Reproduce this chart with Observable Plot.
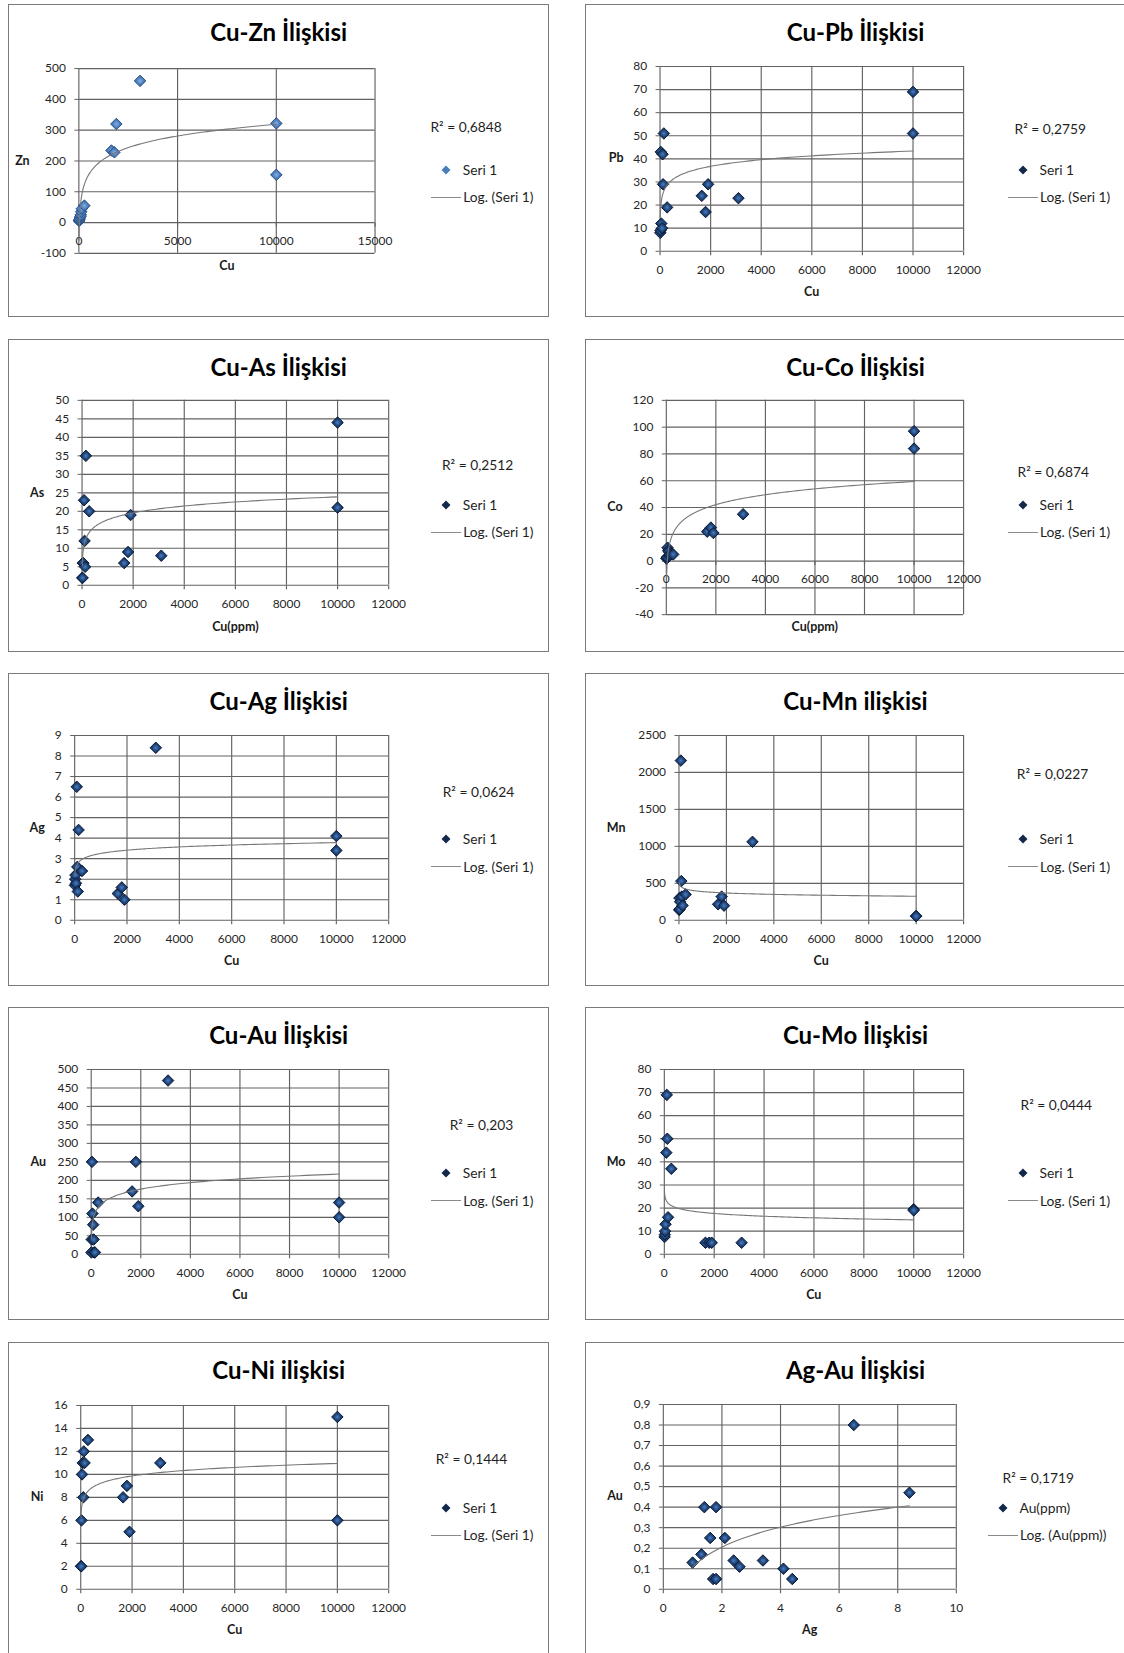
<!DOCTYPE html>
<html>
<head>
<meta charset="utf-8">
<script src="https://cdn.jsdelivr.net/npm/d3@7"></script>
<script src="https://cdn.jsdelivr.net/npm/@observablehq/plot@0.6"></script>
<style>
  html, body { margin: 0; padding: 0; background: #fff; }
  body { width: 1124px; height: 1653px; overflow: hidden; position: relative;
         font-family: Lato, "Noto Sans", sans-serif; color: #1f1f1f; }
  .panel { position: absolute; width: 541px; height: 313px; box-sizing: border-box;
           border: 1.5px solid #7b7b7b; background: #fff; }
  .panel > svg.chart { position: absolute; left: 0; top: 0; overflow: visible; }
  .lbl { position: absolute; white-space: nowrap; transform: translate(-50%, -50%); line-height: 1; }
  .lft { position: absolute; white-space: nowrap; transform: translate(0, -50%); line-height: 1; }
  .title { font-weight: 700; font-size: 24px; color: #000; }
  .axt { font-weight: 700; font-size: 12.5px; color: #1a1a1a; }
  .leg { font-size: 13.8px; color: #1f1f1f; }
  .legline { position: absolute; height: 0; border-top: 1.3px solid #8a8a8a; }
</style>
</head>
<body>
<svg width="0" height="0" style="position:absolute">
  <defs>
    <radialGradient id="mkDark" cx="50%" cy="50%" r="55%">
      <stop offset="0" stop-color="#4a7fc4"/>
      <stop offset="0.45" stop-color="#22497f"/>
      <stop offset="1" stop-color="#0e2246"/>
    </radialGradient>
    <radialGradient id="mkLight" cx="50%" cy="50%" r="55%">
      <stop offset="0" stop-color="#86afe3"/>
      <stop offset="0.5" stop-color="#4e81c2"/>
      <stop offset="1" stop-color="#3764a0"/>
    </radialGradient>
  </defs>
</svg>
<script>
// Copper (ppm) of the 15 samples, shared by the Cu-x panels
const cu = [10, 20, 30, 50, 80, 100, 120, 150, 280, 1650, 1800, 1900, 3100, 10000, 10000];
// Element values for the same samples
const zn = [5, 8, 10, 15, 20, 25, 35, 45, 55, 234, 228, 320, 460, 322, 155];
const pb = [8, 9, 43, 12, 10, 42, 29, 51, 19, 24, 17, 29, 23, 69, 51];
const as = [2, 2, 6, 6, 23, 12, 5, 35, 20, 6, 9, 19, 8, 44, 21];
const co = [2, 2, 3, 10, 8, 7, 4, 5, 5, 22, 25, 21, 35, 97, 84];
const ag = [1.7, 2.0, 2.2, 1.8, 6.5, 2.6, 1.4, 4.4, 2.4, 1.3, 1.6, 1.0, 8.4, 4.1, 3.4];
const mn = [140, 300, 150, 250, 2160, 530, 320, 200, 350, 216, 320, 198, 1061, 58, 55];
const au = [5, 40, 250, 110, 80, 40, 5, 5, 140, 170, 250, 130, 470, 100, 140];
const mo = [7.5, 8.5, 10, 13, 44, 69, 50, 16, 37, 5, 5, 5, 5, 19.5, 19];
const ni = [2, 2, 6, 10, 11, 8, 12, 11, 13, 8, 9, 5, 11, 15, 6];
// Silver vs gold (ppm) pairs
const agPair = [1.0, 1.3, 1.4, 1.6, 1.7, 1.8, 1.8, 2.1, 2.4, 2.6, 3.4, 4.1, 4.4, 6.5, 8.4];
const auPpm = [0.13, 0.17, 0.4, 0.25, 0.05, 0.4, 0.05, 0.25, 0.14, 0.11, 0.14, 0.1, 0.05, 0.8, 0.47];

// Axis ticks
const cuTicks = [0, 2000, 4000, 6000, 8000, 10000, 12000];
const cuTicksWide = [0, 5000, 10000, 15000];
const agTicks = [0, 2, 4, 6, 8, 10];
const znTicks = [-100, 0, 100, 200, 300, 400, 500];
const pbTicks = [0, 10, 20, 30, 40, 50, 60, 70, 80];
const asTicks = [0, 5, 10, 15, 20, 25, 30, 35, 40, 45, 50];
const coTicks = [-40, -20, 0, 20, 40, 60, 80, 100, 120];
const agCuTicks = [0, 1, 2, 3, 4, 5, 6, 7, 8, 9];
const mnTicks = [0, 500, 1000, 1500, 2000, 2500];
const auTicks = [0, 50, 100, 150, 200, 250, 300, 350, 400, 450, 500];
const moTicks = [0, 10, 20, 30, 40, 50, 60, 70, 80];
const niTicks = [0, 2, 4, 6, 8, 10, 12, 14, 16];
const auPpmTicks = [0, 0.1, 0.2, 0.3, 0.4, 0.5, 0.6, 0.7, 0.8, 0.9];

// Texts
const titles = ["Cu-Zn İlişkisi", "Cu-Pb İlişkisi", "Cu-As İlişkisi", "Cu-Co İlişkisi", "Cu-Ag İlişkisi",
                "Cu-Mn ilişkisi", "Cu-Au İlişkisi", "Cu-Mo İlişkisi", "Cu-Ni ilişkisi", "Ag-Au İlişkisi"];
const r2Labels = ["R² = 0,6848", "R² = 0,2759", "R² = 0,2512", "R² = 0,6874", "R² = 0,0624",
                  "R² = 0,0227", "R² = 0,203", "R² = 0,0444", "R² = 0,1444", "R² = 0,1719"];

const GRID = "#626262";
const TREND = "#777777";
const W = 541, H = 313;
const colX = [7.7, 584.5];
const rowY = [3.5, 338.8, 673.1, 1007.3, 1341.5];

// Panel layout: margins [top, right, bottom, left], label and legend placement
const panels = [
  {x: cu, y: zn, xt: cuTicksWide, yt: znTicks, xl: "Cu", yl: "Zn", light: true,
   m: [63.3, 174.1, 64.2, 69.6], ylx: 13.7, xly: 261.5, r2x: 421.7, r2y: 122.3},
  {x: cu, y: pb, xt: cuTicks, yt: pbTicks, xl: "Cu", yl: "Pb",
   m: [61.2, 162.5, 66.3, 73.8], ylx: 30.6, xly: 287.9, r2x: 429, r2y: 124.4},
  {x: cu, y: as, xt: cuTicks, yt: asTicks, xl: "Cu(ppm)", yl: "As",
   m: [60.1, 160.4, 67.3, 72.8], ylx: 28.5, xly: 286.8, r2x: 433.2, r2y: 125.5},
  {x: cu, y: co, xt: cuTicks, yt: coTicks, xl: "Cu(ppm)", yl: "Co",
   m: [60.1, 162.5, 37.8, 80.1], ylx: 29.5, xly: 286.8, r2x: 432, r2y: 131.8},
  {x: cu, y: ag, xt: cuTicks, yt: agCuTicks, xl: "Cu", yl: "Ag",
   m: [61.2, 160.4, 66.3, 65.4], ylx: 28.5, xly: 286.8, r2x: 434, r2y: 118.1},
  {x: cu, y: mn, xt: cuTicks, yt: mnTicks, xl: "Cu", yl: "Mn",
   m: [61.2, 162.5, 66.3, 92.8], ylx: 30.6, xly: 286.8, r2x: 431.3, r2y: 100.2},
  {x: cu, y: au, xt: cuTicks, yt: auTicks, xl: "Cu", yl: "Au",
   m: [61.2, 160.4, 66.3, 82], ylx: 29.5, xly: 286.8, r2x: 441, r2y: 117},
  {x: cu, y: mo, xt: cuTicks, yt: moTicks, xl: "Cu", yl: "Mo",
   m: [61.2, 162.5, 66.3, 78.1], ylx: 30.6, xly: 286.8, r2x: 435, r2y: 97},
  {x: cu, y: ni, xt: cuTicks, yt: niTicks, xl: "Cu", yl: "Ni",
   m: [62.2, 160.4, 66.3, 71.5], ylx: 28.5, xly: 287.9, r2x: 427, r2y: 116},
  {x: agPair, y: auPpm, xt: agTicks, yt: auPpmTicks, xl: "Ag", yl: "Au",
   m: [61.2, 169.8, 66.3, 77.1], ylx: 29.5, xly: 287.9, r2x: 417, r2y: 135,
   series: "Au(ppm)", trend: "Log. (Au(ppm))", legShift: -20}
];

const fmt = d => String(d).replace(".", ",");

// Least-squares fit of y = a·ln(x) + b
function logFit(xs, ys) {
  const L = xs.map(Math.log);
  const lm = d3.mean(L), ym = d3.mean(ys);
  let sxy = 0, sxx = 0;
  L.forEach((l, i) => { sxy += (l - lm) * (ys[i] - ym); sxx += (l - lm) ** 2; });
  const a = sxy / sxx;
  return {a, b: ym - a * lm};
}

// Short downward tick mark used on the x axis
const tickDown = {draw(ctx) { ctx.moveTo(0, 0); ctx.lineTo(0, 4); }};

function el(tag, cls, text, parent) {
  const e = document.createElement(tag);
  if (cls) e.className = cls;
  if (text != null) e.textContent = text;
  parent.appendChild(e);
  return e;
}

panels.forEach((p, k) => {
  const box = document.createElement("div");
  box.className = "panel";
  box.style.left = colX[k % 2] + "px";
  box.style.top = rowY[Math.floor(k / 2)] + "px";
  document.body.appendChild(box);

  const data = p.x.map((x, i) => ({x, y: p.y[i]}));
  const fit = logFit(p.x, p.y);
  const [x0, x1] = d3.extent(p.x);
  const curve = d3.range(241).map(i => {
    const x = x0 * Math.pow(x1 / x0, i / 240);
    return {x, y: fit.a * Math.log(x) + fit.b};
  });

  const chart = Plot.plot({
    width: W, height: H,
    marginTop: p.m[0], marginRight: p.m[1], marginBottom: p.m[2], marginLeft: p.m[3],
    x: {domain: d3.extent(p.xt), axis: null},
    y: {domain: d3.extent(p.yt)},
    style: {fontFamily: "Lato, sans-serif", fontSize: "12px", color: "#262626", background: "transparent"},
    marks: [
      Plot.gridX(p.xt, {stroke: GRID, strokeOpacity: 1, strokeWidth: 1.15}),
      Plot.gridY(p.yt, {stroke: GRID, strokeOpacity: 1, strokeWidth: 1.15}),
      Plot.axisY(p.yt, {tickSize: 4, tickPadding: 9, tickFormat: fmt, label: null, stroke: GRID}),
      Plot.dot(p.xt, {x: d => d, y: 0, symbol: tickDown, r: 4, stroke: GRID, fill: "none", strokeWidth: 1.15}),
      Plot.text(p.xt, {x: d => d, y: 0, dy: 18.5, text: fmt}),
      Plot.dot(data, {x: "x", y: "y", symbol: "diamond2", r: 5.2,
        fill: p.light ? "url(#mkLight)" : "url(#mkDark)",
        stroke: p.light ? "#2b4f82" : "#0b1c3a", strokeWidth: 1}),
      Plot.line(curve, {x: "x", y: "y", stroke: TREND, strokeWidth: 1.1})
    ]
  });
  chart.classList.add("chart");
  box.appendChild(chart);

  // Title and axis titles
  const t = el("div", "lbl title", titles[k], box);
  t.style.left = "270px"; t.style.top = "27px";
  const plotMid = (p.m[0] + (H - p.m[2])) / 2;
  const yl = el("div", "lbl axt", p.yl, box);
  yl.style.left = p.ylx + "px"; yl.style.top = plotMid + "px";
  const xl = el("div", "lbl axt", p.xl, box);
  xl.style.left = (p.m[3] + (W - p.m[1])) / 2 + "px"; xl.style.top = p.xly + "px";

  // Legend: R², series marker, trend line
  const sh = p.legShift || 0;
  const r2 = el("div", "lft leg", r2Labels[k], box);
  r2.style.left = p.r2x + "px"; r2.style.top = p.r2y + "px";

  const mk = document.createElementNS("http://www.w3.org/2000/svg", "svg");
  mk.setAttribute("width", 12); mk.setAttribute("height", 12);
  mk.style.position = "absolute";
  mk.style.left = (437 + sh - 6) + "px"; mk.style.top = (165 - 6) + "px";
  const poly = document.createElementNS("http://www.w3.org/2000/svg", "polygon");
  poly.setAttribute("points", "6,1.5 10.5,6 6,10.5 1.5,6");
  poly.setAttribute("fill", p.light ? "#4a7ebb" : "#14284a");
  mk.appendChild(poly);
  box.appendChild(mk);
  const s1 = el("div", "lft leg", p.series || "Seri 1", box);
  s1.style.left = (454 + sh) + "px"; s1.style.top = "165px";

  const ln = el("div", "legline", null, box);
  ln.style.left = (422 + sh) + "px"; ln.style.width = "30px"; ln.style.top = "192px";
  const s2 = el("div", "lft leg", p.trend || "Log. (Seri 1)", box);
  s2.style.left = (454.5 + sh) + "px"; s2.style.top = "192.5px";
});
</script>
</body>
</html>
